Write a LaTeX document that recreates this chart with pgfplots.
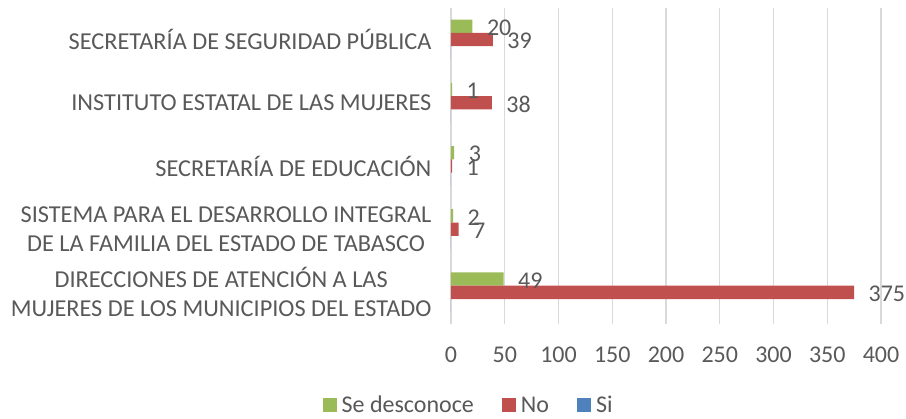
\documentclass[border=0pt]{standalone}
\usepackage{fontspec}
\setmainfont{Carlito}
\usepackage{pgfplots}
\pgfplotsset{compat=1.18}
\definecolor{cgreen}{HTML}{9BBB59}
\definecolor{cred}{HTML}{C0504D}
\definecolor{cblue}{HTML}{4F81BD}
\definecolor{ctext}{HTML}{595959}
\definecolor{cgrid}{HTML}{D9D9D9}
\begin{document}
\begin{tikzpicture}[x=1pt,y=1pt]
\useasboundingbox (0,0) rectangle (906,419);
\begin{axis}[
  at={(451pt,95pt)}, anchor=south west,
  scale only axis, width=430pt, height=316pt,
  xbar, bar width=13.3pt,
  xmin=0, xmax=400, xtick={0,50,...,400},
  ymin=-0.5, ymax=4.5,
  ytick={0,1,2,3,4},
  yticklabels={{DIRECCIONES DE ATENCIÓN A LAS\\MUJERES DE LOS MUNICIPIOS DEL ESTADO},
               {SISTEMA PARA EL DESARROLLO INTEGRAL\\DE LA FAMILIA DEL ESTADO DE TABASCO},
               {SECRETARÍA DE EDUCACIÓN},
               {INSTITUTO ESTATAL DE LAS MUJERES},
               {SECRETARÍA DE SEGURIDAD PÚBLICA}},
  yticklabel style={align=center, font=\fontsize{24.3}{29}\selectfont, text=ctext, xshift=-16pt},
  xticklabel style={font=\fontsize{24}{29}\selectfont, text=ctext, yshift=-19pt},
  /pgf/number format/assume math mode=true,
  major tick length=0pt,
  axis line style={draw=none},
  xmajorgrids, grid style={cgrid, line width=1.2pt},
  legend style={at={(0.041,-0.257)}, anchor=center, draw=none, legend columns=3,
    font=\fontsize{24}{29}\selectfont, text=ctext, inner sep=0pt,
    /tikz/every odd column/.append style={column sep=3pt},
    /tikz/every even column/.append style={column sep=26pt}},
  legend image code/.code={\fill[#1,draw=none] (0pt,-7pt) rectangle (14pt,7pt);},
  nodes near coords style={font=\fontsize{24}{29}\selectfont, text=ctext, anchor=west, xshift=11pt, yshift=-1.5pt},
]
\addplot[fill=cgreen, draw=none, bar shift=13.3pt, nodes near coords] coordinates {(49,0) (2,1) (3,2) (1,3) (20,4)};
\addlegendentry{Se desconoce}
\addplot[fill=cred, draw=none, bar shift=0pt, nodes near coords] coordinates {(375,0) (7,1) (1,2) (38,3) (39,4)};
\addlegendentry{No}
\addplot[fill=cblue, draw=none, bar shift=-13.3pt] coordinates {(0,0) (0,1) (0,2) (0,3) (0,4)};
\addlegendentry{Si}
\end{axis}
\end{tikzpicture}
\end{document}
